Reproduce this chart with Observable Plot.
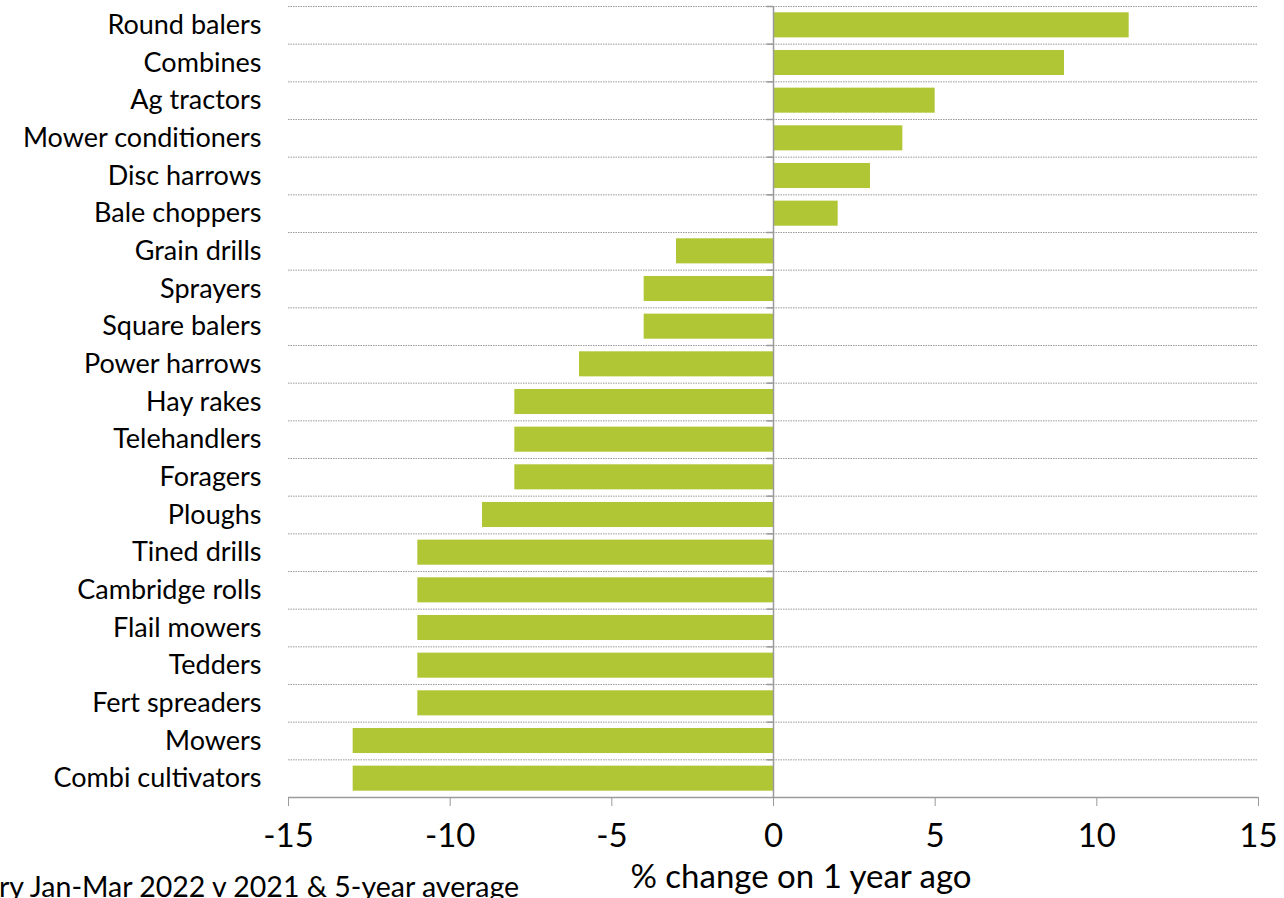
<!DOCTYPE html>
<html>
<head>
<meta charset="utf-8">
<script src="https://cdn.jsdelivr.net/npm/d3@7"></script>
<script src="https://cdn.jsdelivr.net/npm/@observablehq/plot@0.6"></script>
<style>
  html, body { margin: 0; padding: 0; background: #fff; overflow: hidden; }
  #chart svg { display: block; }
</style>
</head>
<body>
<div id="chart"></div>
<script>
const categories = [
  "Round balers", "Combines", "Ag tractors", "Mower conditioners", "Disc harrows",
  "Bale choppers", "Grain drills", "Sprayers", "Square balers", "Power harrows",
  "Hay rakes", "Telehandlers", "Foragers", "Ploughs", "Tined drills",
  "Cambridge rolls", "Flail mowers", "Tedders", "Fert spreaders", "Mowers", "Combi cultivators"
];
const values = [11, 9, 5, 4, 3, 2, -3, -4, -4, -6, -8, -8, -8, -9, -11, -11, -11, -11, -11, -13, -13];
const xTicks = [-15, -10, -5, 0, 5, 10, 15];
const xLabel = "% change on 1 year ago";
const caption = "ry Jan-Mar 2022 v 2021 & 5-year average";

const data = categories.map((c, i) => ({category: c, value: values[i]}));

const W = 1284, H = 898;
const mTop = 6, mBottom = 101, mLeft = 288, mRight = 26;
const step = (H - mTop - mBottom) / categories.length;
const font = "Lato, 'Open Sans', sans-serif";

const plot = Plot.plot({
  width: W,
  height: H,
  marginTop: mTop,
  marginBottom: mBottom,
  marginLeft: mLeft,
  marginRight: mRight,
  style: {fontFamily: font, color: "#000", background: "#fff"},
  x: {domain: [-15, 15]},
  y: {domain: categories, paddingInner: 0.335, paddingOuter: 0.1675, round: false},
  marks: [
    Plot.ruleY(categories, {y: d => d, dy: -step / 2, stroke: "#9a9a9a", strokeDasharray: "1.5,1", strokeWidth: 1}),
    Plot.barX(data, {x: "value", y: "category", fill: "#b0c635"}),
    Plot.ruleX([0], {stroke: "#9a9a9a", strokeWidth: 1.5}),
    Plot.ruleY(categories, {y: d => d, dy: -step / 2, x1: -0.2, x2: 0, stroke: "#9a9a9a", strokeWidth: 1.5}),
    Plot.ruleY([categories[categories.length - 1]], {y: d => d, dy: step / 2, stroke: "#9a9a9a", strokeWidth: 1.5}),
    Plot.axisX({ticks: xTicks, tickFormat: d => String(d), tickSize: 9, tickPadding: 17, fontSize: 33, stroke: "#9a9a9a", label: null}),
    Plot.axisY({tickSize: 0, tickPadding: 27, fontSize: 27, label: null})
  ]
});

const svg = d3.select(plot);
svg.append("text")
  .attr("x", 801).attr("y", 880)
  .attr("text-anchor", "middle").attr("dominant-baseline", "middle")
  .attr("font-family", font).attr("font-size", 33).attr("fill", "#000")
  .text(xLabel);
svg.append("text")
  .attr("x", -1).attr("y", 897)
  .attr("text-anchor", "start")
  .attr("font-family", font).attr("font-size", 28.5).attr("fill", "#000")
  .text(caption);

document.getElementById("chart").appendChild(plot);
</script>
</body>
</html>
